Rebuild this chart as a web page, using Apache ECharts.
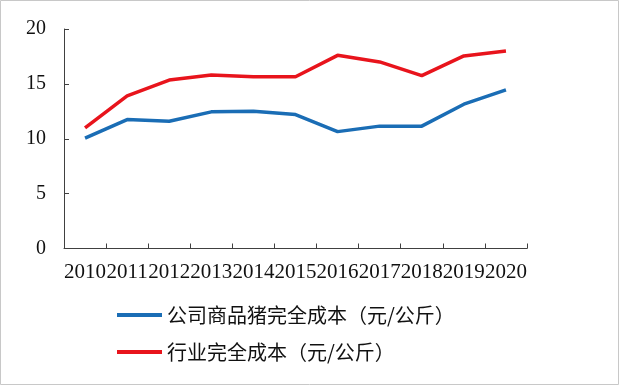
<!DOCTYPE html>
<html>
<head>
<meta charset="utf-8">
<script src="https://cdn.jsdelivr.net/npm/echarts@6/dist/echarts.min.js"></script>
<style>
html,body{margin:0;padding:0;background:#fff;}
#c{width:619px;height:385px;}
</style>
</head>
<body>
<div id="c"></div>
<script>
const years = ['2010','2011','2012','2013','2014','2015','2016','2017','2018','2019','2020'];
const companyCost = [10.05, 11.75, 11.6, 12.45, 12.5, 12.2, 10.65, 11.15, 11.15, 13.15, 14.45];
const industryCost = [11.0, 13.9, 15.35, 15.8, 15.65, 15.65, 17.6, 17.0, 15.75, 17.55, 18.0];
const seriesNames = ['公司商品猪完全成本（元/公斤）', '行业完全成本（元/公斤）'];
const yTicks = [0, 5, 10, 15, 20];

const blue = '#1a6db5';
const red = '#e8141c';
const axisColor = '#404040';

const chart = echarts.init(document.getElementById('c'), null, {renderer: 'canvas'});
const legendText = {fontFamily: '"Noto Sans CJK SC", sans-serif', fontSize: 20, color: '#111'};
chart.setOption({
  animation: false,
  backgroundColor: '#fff',
  graphic: [{
    type: 'rect', silent: true,
    shape: {x: 0.5, y: 0.5, width: 618, height: 384},
    style: {fill: 'none', stroke: '#c8c8c8', lineWidth: 1}
  }],
  grid: {left: 64, right: 92, top: 29, bottom: 136.5, containLabel: false},
  legend: [
    {data: [seriesNames[0]], left: 117, top: 305, padding: 0, icon: 'rect', itemWidth: 45, itemHeight: 4,
     textStyle: legendText, itemStyle: {color: blue}},
    {data: [seriesNames[1]], left: 117, top: 342, padding: 0, icon: 'rect', itemWidth: 45, itemHeight: 4,
     textStyle: legendText, itemStyle: {color: red}}
  ],
  xAxis: {
    type: 'category', data: years, boundaryGap: true,
    axisLine: {lineStyle: {color: axisColor, width: 1}},
    axisTick: {show: true, inside: true, length: 5, alignWithLabel: false, lineStyle: {color: axisColor}},
    axisLabel: {interval: 0, margin: 13, color: '#111', fontFamily: '"Liberation Serif", "Times New Roman", serif', fontSize: 21}
  },
  yAxis: {
    type: 'value', min: yTicks[0], max: yTicks[yTicks.length - 1], interval: 5,
    splitLine: {show: false},
    axisLine: {show: true, lineStyle: {color: axisColor, width: 1}},
    axisTick: {show: true, inside: true, length: 5, lineStyle: {color: axisColor}},
    axisLabel: {margin: 18, color: '#111', fontFamily: '"Liberation Serif", "Times New Roman", serif', fontSize: 20}
  },
  series: [
    {name: seriesNames[0], type: 'line', data: companyCost, symbol: 'none', smooth: false,
     lineStyle: {color: blue, width: 3.5}, itemStyle: {color: blue}},
    {name: seriesNames[1], type: 'line', data: industryCost, symbol: 'none', smooth: false,
     lineStyle: {color: red, width: 3.5}, itemStyle: {color: red}}
  ]
});
</script>
</body>
</html>
